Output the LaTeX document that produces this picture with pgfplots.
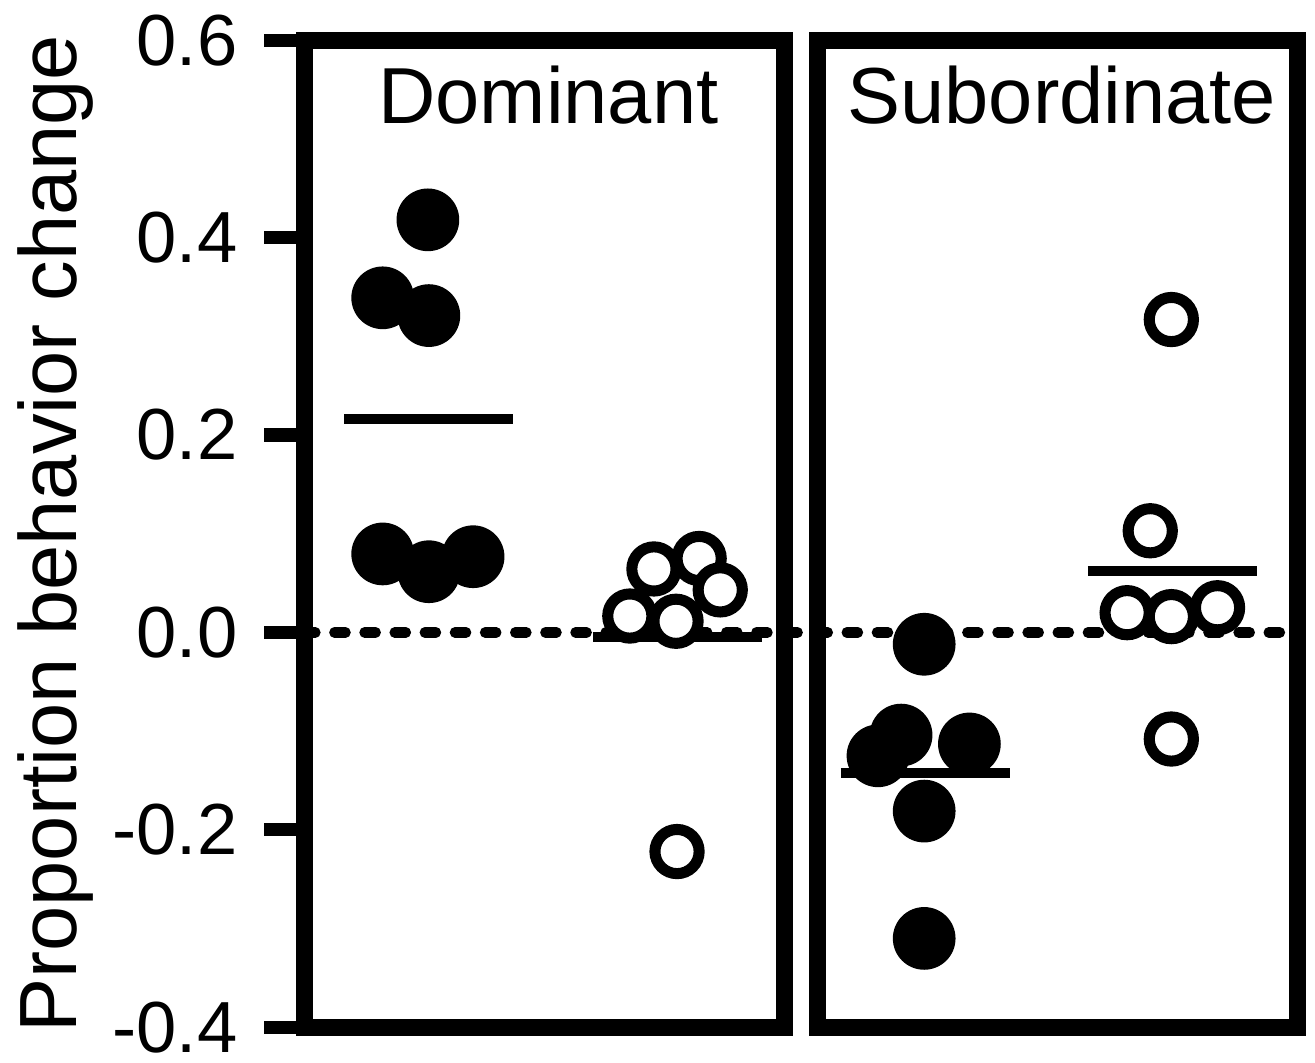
\documentclass[border=0pt]{standalone}
\usepackage{fontspec}
\setmainfont{Liberation Sans}
\usepackage{pgfplots}
\pgfplotsset{compat=1.18}

\pgfplotsset{
  panel/.style={
    x=1cm, y=9.825cm,
    xmin=0, xmax=4.78,
    ymin=-0.4, ymax=0.6,
    axis line style={line width=1.7mm, black},
    xtick=\empty,
    scale only axis,
    clip=false,
  },
  filled/.style={only marks, mark=*, mark size=3.05mm, black},
  open/.style={only marks, mark=*, mark size=2.2mm,
    mark options={draw=black, fill=white, line width=1.1mm}},
  meanline/.style={line width=1mm, black},
}

\begin{document}
\fontsize{22.5}{27}\selectfont
\begin{tikzpicture}
% Dominant
\begin{axis}[panel,
  ytick={-0.4,-0.2,0,0.2,0.4,0.6},
  ytick pos=left,
  yticklabel style={/pgf/number format/fixed, /pgf/number format/precision=1,
    /pgf/number format/fixed zerofill, font=\fontsize{20.5}{24}\selectfont,
    inner sep=0pt, xshift=-2.6mm},
  /pgf/number format/assume math mode=true,
  tick align=outside, major tick length=4.0mm,
  tick style={line width=1.3mm, black},
  ylabel={Proportion behavior change},
  ylabel style={font=\fontsize{23}{27}\selectfont, inner sep=1.8mm},
]
\addplot[black, line width=1.05mm, dash pattern=on 1.1mm off 1.9mm, line cap=round]
  coordinates {(0,0) (9.89,0)};
\addplot[filled] coordinates {
  (1.23,0.418) (0.78,0.339) (1.24,0.321) (0.78,0.0795) (1.24,0.0615) (1.68,0.0767)
};
\addplot[meanline] coordinates {(0.40,0.216) (2.08,0.216)};
\addplot[open] coordinates {
  (3.48,0.0643) (3.93,0.0749) (4.14,0.0431) (3.24,0.0166) (3.70,0.0113) (3.71,-0.222)
};
\addplot[meanline] coordinates {(2.87,-0.005) (4.56,-0.005)};
\node[anchor=base] at (axis cs:2.43,0.516) {Dominant};
\end{axis}
% Subordinate
\begin{axis}[panel, at={(5.11cm,0)}, ytick=\empty]
\addplot[filled] coordinates {
  (1.06,-0.012) (0.83,-0.104) (0.60,-0.125) (1.51,-0.113) (1.06,-0.181) (1.06,-0.310)
};
\addplot[meanline] coordinates {(0.23,-0.142) (1.91,-0.142)};
\addplot[open] coordinates {
  (3.31,0.103) (3.52,0.317) (3.08,0.020) (3.52,0.016) (3.98,0.025) (3.52,-0.108)
};
\addplot[meanline] coordinates {(2.69,0.062) (4.37,0.062)};
\node[anchor=base] at (axis cs:2.43,0.516) {Subordinate};
% white margin around the figure as in the original
\path (rel axis cs:1,1) ++(1.7mm,4.0mm) (rel axis cs:1,0) ++(1.7mm,-3.5mm);
\end{axis}
\end{tikzpicture}
\end{document}
